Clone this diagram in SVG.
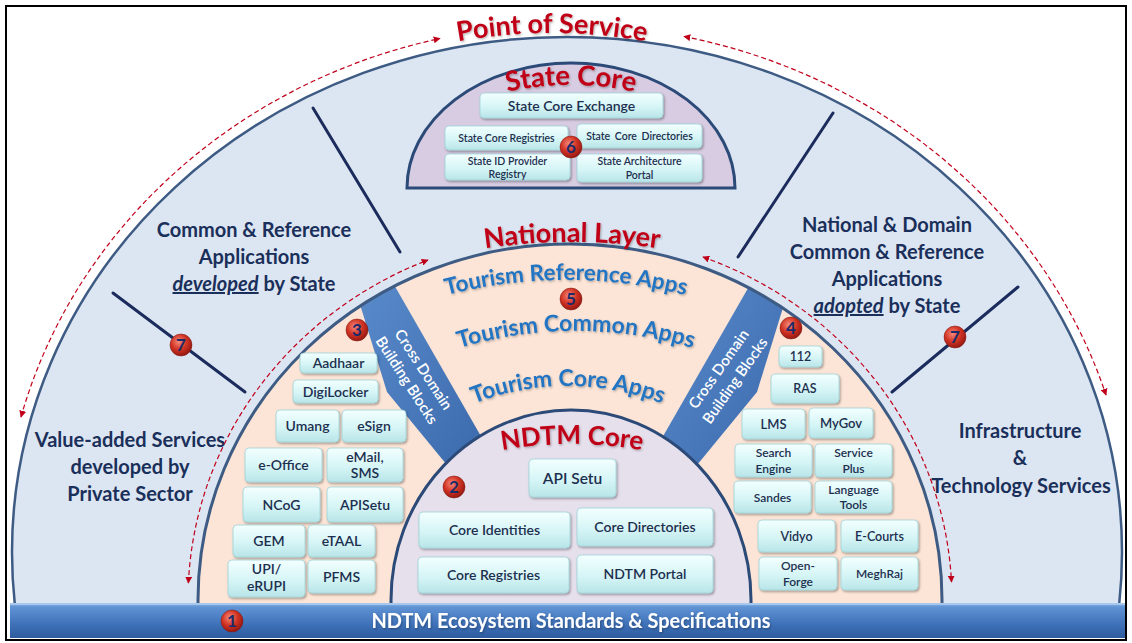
<svg xmlns="http://www.w3.org/2000/svg" width="1132" height="643" viewBox="0 0 1132 643">
<defs>
<style>
.lbl{font-family:Lato,"Liberation Sans",sans-serif;font-weight:bold;font-size:20px;fill:#1a2f5a;text-anchor:middle}
.ttl{font-family:Lato,"Liberation Sans",sans-serif;font-weight:bold;fill:#c00016;filter:url(#tsh)}
.tour{font-family:Lato,"Liberation Sans",sans-serif;font-weight:bold;fill:#2474c2;filter:url(#tsh)}
.box{fill:url(#gBox);stroke:#9fd3d8;stroke-width:0.8;filter:url(#bsh)}
.bt{font-family:Lato,"Liberation Sans",sans-serif;font-weight:600;fill:#1d2f4f;text-anchor:middle}
.band{fill:url(#gBand)}
.bandt{font-family:Lato,"Liberation Sans",sans-serif;font-weight:600;font-size:15px;fill:#ffffff;text-anchor:middle}
.dash{fill:none;stroke:#c0001a;stroke-width:1.2;stroke-dasharray:5 3;marker-start:url(#arr);marker-end:url(#arr)}
.div{stroke:#1b2b5c;stroke-width:3;stroke-linecap:round}
.bdg{fill:url(#gBdg);stroke:#7a1810;stroke-width:0.5}
.bn{font-family:Lato,"Liberation Sans",sans-serif;font-weight:bold;font-size:17px;fill:#1b2a6b;text-anchor:middle}
</style>
<linearGradient id="gBox" x1="0" y1="0" x2="0" y2="1">
<stop offset="0" stop-color="#f3ffff"/><stop offset="0.55" stop-color="#d6f5f6"/><stop offset="1" stop-color="#b8e5e8"/>
</linearGradient>
<linearGradient id="gBand" x1="0" y1="0" x2="1" y2="1">
<stop offset="0" stop-color="#5a8bcb"/><stop offset="1" stop-color="#3a69ab"/>
</linearGradient>
<linearGradient id="gBar" x1="0" y1="0" x2="0" y2="1">
<stop offset="0" stop-color="#8db5e6"/><stop offset="0.12" stop-color="#5f93d4"/><stop offset="0.6" stop-color="#3f72b9"/><stop offset="1" stop-color="#2d5b9e"/>
</linearGradient>
<radialGradient id="gBdg" cx="0.4" cy="0.35" r="0.7">
<stop offset="0" stop-color="#f58a78"/><stop offset="0.5" stop-color="#d23424"/><stop offset="1" stop-color="#8e1410"/>
</radialGradient>
<filter id="bsh" x="-10%" y="-10%" width="125%" height="140%">
<feDropShadow dx="1.2" dy="1.5" stdDeviation="1" flood-color="#000" flood-opacity="0.35"/>
</filter>
<filter id="tsh" x="-5%" y="-10%" width="110%" height="130%">
<feDropShadow dx="1" dy="1.2" stdDeviation="0.8" flood-color="#000" flood-opacity="0.3"/>
</filter>
<marker id="arr" viewBox="0 0 10 10" refX="9" refY="5" markerWidth="7" markerHeight="7" markerUnits="userSpaceOnUse" orient="auto-start-reverse">
<path d="M0 0 L10 5 L0 10 Z" fill="#c0001a"/>
</marker>
<clipPath id="cBase"><rect x="0" y="0" width="1132" height="604"/></clipPath>
<clipPath id="cNat"><ellipse cx="570" cy="600" rx="372" ry="356"/></clipPath>
<path id="pPOS" d="M 252 126.7 A 527 527 0 0 1 852 126.7"/>
<path id="pSC" d="M 271 385 A 300 300 0 0 1 871 385"/>
<path id="pNL" d="M 272 322.4 A 600 600 0 0 1 872 322.4"/>
<path id="pNC" d="M 372 497.6 A 400 400 0 0 1 772 497.6"/>
<path id="pT1" d="M 316 350.2 A 480 480 0 0 1 816 350.2"/>
<path id="pT2" d="M 326 416 A 410 410 0 0 1 826 416"/>
<path id="pT3" d="M 368 479.9 A 260 260 0 0 1 768 479.9"/>
</defs>

<rect x="0" y="0" width="1132" height="643" fill="#ffffff"/>

<g id="point-of-service" clip-path="url(#cBase)">
<ellipse cx="567" cy="552" rx="555" ry="515" fill="#dce6f2" stroke="#3e5b84" stroke-width="2.5"/>
</g>
<text class="ttl" font-size="27"><textPath href="#pPOS" startOffset="50%" text-anchor="middle">Point of Service</textPath></text>

<g id="state-core">
<path d="M 407 188 A 164 125 0 0 1 735 188 Z" fill="#d7cce2" stroke="#2c4a78" stroke-width="3"/>
<text class="ttl" font-size="27.5"><textPath href="#pSC" startOffset="50%" text-anchor="middle">State Core</textPath></text>
<g id="sc-exchange"><rect class="box" x="480" y="93" width="183" height="25" rx="4"/><text class="bt" x="571.5" y="110.5" font-size="14">State Core Exchange</text></g>
<g id="sc-registries"><rect class="box" x="445" y="126" width="123" height="24" rx="4"/><text class="bt" x="506.5" y="141.5" font-size="10.5">State Core Registries</text></g>
<g id="sc-directories"><rect class="box" x="577" y="124" width="125" height="24" rx="4"/><text class="bt" x="639.5" y="139.5" font-size="10.5" word-spacing="2">State Core Directories</text></g>
<g id="sc-idprovider"><rect class="box" x="445" y="154" width="125" height="26" rx="4"/><text class="bt" x="507.5" y="165" font-size="10.5">State ID Provider</text><text class="bt" x="507.5" y="178" font-size="10.5">Registry</text></g>
<g id="sc-architecture"><rect class="box" x="577" y="154" width="125" height="28" rx="4"/><text class="bt" x="639.5" y="165" font-size="10.5">State Architecture</text><text class="bt" x="639.5" y="179" font-size="10.5">Portal</text></g>
<g id="badge-6"><circle class="bdg" cx="571" cy="147" r="11"/><text class="bn" x="571" y="153">6</text></g>
</g>

<g id="national-layer" clip-path="url(#cBase)">
<ellipse cx="570" cy="600" rx="372" ry="356" fill="#fce5d6"/>
<g clip-path="url(#cNat)">
<polygon class="band" points="358,298 389,276 486,445 456,476 387,392"/>
<polygon class="band" points="786,298 755,276 658,445 688,476 757,392"/>
</g>
<ellipse cx="570" cy="600" rx="372" ry="356" fill="none" stroke="#3e5b84" stroke-width="3"/>
</g>
<text class="ttl" font-size="27"><textPath href="#pNL" startOffset="50%" text-anchor="middle">National Layer</textPath></text>
<g id="national-apps">
<text class="tour" font-size="22.5"><textPath href="#pT1" startOffset="50%" text-anchor="middle">Tourism Reference Apps</textPath></text>
<text class="tour" font-size="23"><textPath href="#pT2" startOffset="50%" text-anchor="middle">Tourism Common Apps</textPath></text>
<text class="tour" font-size="23"><textPath href="#pT3" startOffset="50%" text-anchor="middle">Tourism Core Apps</textPath></text>
<g id="badge-5"><circle class="bdg" cx="571" cy="299" r="11"/><text class="bn" x="571" y="305">5</text></g>
</g>

<g id="cross-domain-left">
<g transform="translate(415 375) rotate(57)"><text class="bandt" x="0" y="-5">Cross Domain</text><text class="bandt" x="0" y="15">Building Blocks</text></g>
<g id="badge-3"><circle class="bdg" cx="357" cy="330" r="11"/><text class="bn" x="357" y="336">3</text></g>
</g>
<g id="cross-domain-right">
<g transform="translate(727 375) rotate(-55)"><text class="bandt" x="0" y="-5">Cross Domain</text><text class="bandt" x="0" y="15">Building Blocks</text></g>
<g id="badge-4"><circle class="bdg" cx="791" cy="328" r="11"/><text class="bn" x="791" y="334">4</text></g>
</g>

<g id="left-blocks">
<g id="b-aadhaar"><rect class="box" x="300" y="353" width="77" height="20" rx="4"/><text class="bt" x="338.5" y="368" font-size="14">Aadhaar</text></g>
<g id="b-digilocker"><rect class="box" x="293" y="380" width="85" height="23" rx="4"/><text class="bt" x="335.5" y="396.5" font-size="14">DigiLocker</text></g>
<g id="b-umang"><rect class="box" x="276" y="410" width="63" height="32" rx="4"/><text class="bt" x="307.5" y="431" font-size="14">Umang</text></g>
<g id="b-esign"><rect class="box" x="342" y="410" width="64" height="32" rx="4"/><text class="bt" x="374" y="431" font-size="14">eSign</text></g>
<g id="b-eoffice"><rect class="box" x="245" y="448" width="77" height="34" rx="4"/><text class="bt" x="283.5" y="470" font-size="14">e-Office</text></g>
<g id="b-email"><rect class="box" x="327" y="448" width="76" height="34" rx="4"/><text class="bt" x="365" y="462" font-size="14">eMail,</text><text class="bt" x="365" y="478" font-size="14">SMS</text></g>
<g id="b-ncog"><rect class="box" x="243" y="487" width="77" height="35" rx="4"/><text class="bt" x="281.5" y="509.5" font-size="14">NCoG</text></g>
<g id="b-apisetu"><rect class="box" x="327" y="487" width="76" height="35" rx="4"/><text class="bt" x="365" y="509.5" font-size="14">APISetu</text></g>
<g id="b-gem"><rect class="box" x="233" y="525" width="72" height="32" rx="4"/><text class="bt" x="269" y="546" font-size="14">GEM</text></g>
<g id="b-etaal"><rect class="box" x="308" y="525" width="67" height="32" rx="4"/><text class="bt" x="341.5" y="546" font-size="14">eTAAL</text></g>
<g id="b-upi"><rect class="box" x="228" y="560" width="77" height="37" rx="4"/><text class="bt" x="266.5" y="574" font-size="14">UPI/</text><text class="bt" x="266.5" y="591" font-size="14">eRUPI</text></g>
<g id="b-pfms"><rect class="box" x="308" y="560" width="67" height="33" rx="4"/><text class="bt" x="341.5" y="581.5" font-size="14">PFMS</text></g>
</g>

<g id="right-blocks">
<g id="b-112"><rect class="box" x="779" y="346" width="43" height="21" rx="4"/><text class="bt" x="800.5" y="361" font-size="12.5">112</text></g>
<g id="b-ras"><rect class="box" x="771" y="374" width="68" height="29" rx="4"/><text class="bt" x="805" y="393" font-size="12.5">RAS</text></g>
<g id="b-lms"><rect class="box" x="742" y="409" width="63" height="30" rx="4"/><text class="bt" x="773.5" y="429" font-size="13">LMS</text></g>
<g id="b-mygov"><rect class="box" x="809" y="408" width="64" height="30" rx="4"/><text class="bt" x="841" y="428" font-size="13">MyGov</text></g>
<g id="b-search"><rect class="box" x="735" y="444" width="77" height="33" rx="4"/><text class="bt" x="773.5" y="457" font-size="12">Search</text><text class="bt" x="773.5" y="473" font-size="12">Engine</text></g>
<g id="b-service"><rect class="box" x="815" y="444" width="77" height="33" rx="4"/><text class="bt" x="853.5" y="457" font-size="12">Service</text><text class="bt" x="853.5" y="473" font-size="12">Plus</text></g>
<g id="b-sandes"><rect class="box" x="734" y="481" width="77" height="32" rx="4"/><text class="bt" x="772.5" y="501.5" font-size="12">Sandes</text></g>
<g id="b-language"><rect class="box" x="815" y="481" width="77" height="32" rx="4"/><text class="bt" x="853.5" y="494" font-size="12">Language</text><text class="bt" x="853.5" y="509" font-size="12">Tools</text></g>
<g id="b-vidyo"><rect class="box" x="758" y="520" width="77" height="32" rx="4"/><text class="bt" x="796.5" y="541" font-size="12.5">Vidyo</text></g>
<g id="b-ecourts"><rect class="box" x="841" y="520" width="77" height="32" rx="4"/><text class="bt" x="879.5" y="541" font-size="12.5">E-Courts</text></g>
<g id="b-openforge"><rect class="box" x="759" y="557" width="78" height="33" rx="4"/><text class="bt" x="798" y="570" font-size="12">Open-</text><text class="bt" x="798" y="586" font-size="12">Forge</text></g>
<g id="b-meghraj"><rect class="box" x="841" y="557" width="77" height="33" rx="4"/><text class="bt" x="879.5" y="578" font-size="12">MeghRaj</text></g>
</g>

<g id="ndtm-core">
<g clip-path="url(#cBase)"><ellipse cx="571" cy="600" rx="180" ry="190" fill="#e6e0ed" stroke="#2c4a78" stroke-width="3"/></g>
<text class="ttl" font-size="26"><textPath href="#pNC" startOffset="50%" text-anchor="middle">NDTM Core</textPath></text>
<g id="nc-apisetu"><rect class="box" x="529" y="459" width="87" height="38" rx="4"/><text class="bt" x="572.5" y="483.5" font-size="15.5">API Setu</text></g>
<g id="nc-identities"><rect class="box" x="419" y="512" width="151" height="36" rx="4"/><text class="bt" x="494.5" y="535" font-size="14">Core Identities</text></g>
<g id="nc-directories"><rect class="box" x="577" y="508" width="136" height="38" rx="4"/><text class="bt" x="645" y="532" font-size="14">Core Directories</text></g>
<g id="nc-registries"><rect class="box" x="418" y="557" width="151" height="36" rx="4"/><text class="bt" x="493.5" y="580" font-size="14">Core Registries</text></g>
<g id="nc-portal"><rect class="box" x="577" y="555" width="136" height="38" rx="4"/><text class="bt" x="645" y="579" font-size="14">NDTM Portal</text></g>
<g id="badge-2"><circle class="bdg" cx="454" cy="487" r="11"/><text class="bn" x="454" y="493">2</text></g>
</g>

<g id="outer-labels">
<g id="lbl-common-dev"><text class="lbl" x="254" y="237">Common &amp; Reference</text><text class="lbl" x="254" y="264">Applications</text><text class="lbl" x="254" y="291"><tspan font-style="italic" text-decoration="underline">developed</tspan> by State</text></g>
<g id="lbl-national-adopt"><text class="lbl" x="887" y="232">National &amp; Domain</text><text class="lbl" x="887" y="259">Common &amp; Reference</text><text class="lbl" x="887" y="286">Applications</text><text class="lbl" x="887" y="313"><tspan font-style="italic" text-decoration="underline">adopted</tspan> by State</text></g>
<g id="lbl-value-added"><text class="lbl" x="130" y="447">Value-added Services</text><text class="lbl" x="130" y="474">developed by</text><text class="lbl" x="130" y="501">Private Sector</text></g>
<g id="lbl-infra"><text class="lbl" x="1020" y="438">Infrastructure</text><text class="lbl" x="1020" y="465">&amp;</text><text class="lbl" x="1021" y="493">Technology Services</text></g>
</g>

<g id="connectors">
<path class="dash" d="M 21 417 A 565 527 0 0 1 440 38.5"/>
<path class="dash" d="M 684 36.5 A 565 527 0 0 1 1106 395"/>
<path class="dash" d="M 188.4 583 A 382 366 0 0 1 428 260"/>
<path class="dash" d="M 703 257 A 382 366 0 0 1 951.5 582"/>
<line class="div" x1="313" y1="108" x2="400" y2="252"/>
<line class="div" x1="833" y1="113" x2="738" y2="257"/>
<line class="div" x1="113" y1="293" x2="245" y2="392"/>
<line class="div" x1="1018" y1="287" x2="892" y2="392"/>
</g>

<g id="badges-7">
<g id="badge-7a"><circle class="bdg" cx="181" cy="345" r="11"/><text class="bn" x="181" y="351">7</text></g>
<g id="badge-7b"><circle class="bdg" cx="955" cy="337" r="11"/><text class="bn" x="955" y="343">7</text></g>
</g>

<g id="standards-bar">
<rect x="10" y="603" width="1116" height="35" fill="url(#gBar)"/>
<line x1="10" y1="604" x2="1126" y2="604" stroke="#b4d0f2" stroke-width="1.5"/>
<text x="571" y="628" font-family="Lato,'Liberation Sans',sans-serif" font-weight="bold" font-size="20" fill="#ffffff" text-anchor="middle" textLength="399" lengthAdjust="spacingAndGlyphs" filter="url(#tsh)">NDTM Ecosystem Standards &amp; Specifications</text>
<g id="badge-1"><circle class="bdg" cx="232" cy="621" r="11"/><text class="bn" x="232" y="627">1</text></g>
</g>

<rect x="6" y="6" width="1120" height="634" fill="none" stroke="#000000" stroke-width="2"/>
</svg>
